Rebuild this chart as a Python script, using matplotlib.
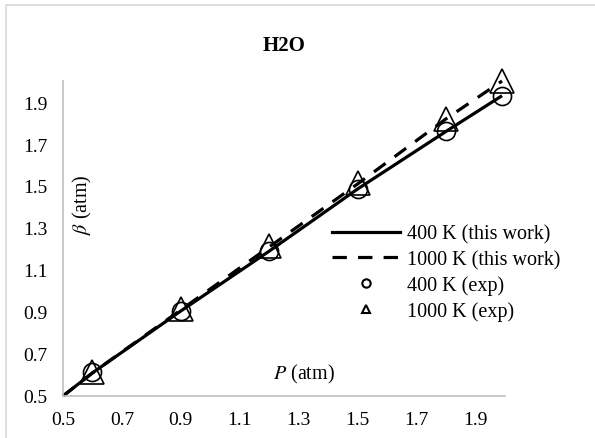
import matplotlib
matplotlib.use("Agg")
import matplotlib.pyplot as plt
from matplotlib.lines import Line2D
from matplotlib.patches import Rectangle

plt.rcParams["font.family"] = "Liberation Serif"
plt.rcParams["mathtext.fontset"] = "stix"

# pressure points and beta values
p = [0.5, 0.6, 0.9, 1.2, 1.5, 1.8, 1.99]
beta_400_model = [0.5, 0.61, 0.905, 1.19, 1.486, 1.76, 1.93]
beta_1000_model = [0.5, 0.61, 0.91, 1.21, 1.51, 1.82, 2.0]

p_exp = [0.6, 0.9, 1.2, 1.5, 1.8, 1.99]
beta_400_exp = [0.614, 0.905, 1.19, 1.486, 1.76, 1.93]
beta_1000_exp = [0.614, 0.914, 1.214, 1.514, 1.82, 2.0]

ticks = [0.5, 0.7, 0.9, 1.1, 1.3, 1.5, 1.7, 1.9]

fig = plt.figure(figsize=(5.95, 4.39), dpi=100)
ax = fig.add_axes([0.1059, 0.0957, 0.7428, 0.7175])

ax.plot(p, beta_400_model, color="black", lw=2.3, solid_capstyle="butt",
        clip_on=False)
ax.plot(p, beta_1000_model, color="black", lw=2.3, dashes=(4.5, 3.5),
        clip_on=False)
ax.plot(p_exp, beta_400_exp, "o", ms=13, mfc="none", mec="black", mew=1.2,
        clip_on=False)
ax.plot(p_exp, beta_1000_exp, "^", ms=17, mfc="none", mec="black", mew=1.2,
        clip_on=False)

ax.set_xlim(0.5, 2.0)
ax.set_ylim(0.5, 2.0)
ax.set_xticks(ticks)
ax.set_yticks(ticks)
ax.tick_params(length=0, labelsize=14, pad=11)
for s in ["top", "right"]:
    ax.spines[s].set_visible(False)
for s in ["left", "bottom"]:
    ax.spines[s].set_color("#bfbfbf")
    ax.spines[s].set_linewidth(1.2)

ax.set_title("H2O", fontsize=15, fontweight="bold", pad=22)
ax.text(0.545, 0.07, "$P$ (atm)", transform=ax.transAxes, fontsize=14.5,
        ha="center", va="center")
ax.text(0.043, 0.61, r"$\beta$ (atm)", transform=ax.transAxes, fontsize=14.5,
        ha="center", va="center", rotation=90)

handles = [
    Line2D([], [], color="black", lw=2.3),
    Line2D([], [], color="black", lw=2.3, dashes=(4.5, 3.5)),
    Line2D([], [], ls="none", marker="o", ms=6, mfc="none", mec="black", mew=1.5),
    Line2D([], [], ls="none", marker="^", ms=6, mfc="none", mec="black", mew=1.5),
]
labels = ["400 K (this work)", "1000 K (this work)", "400 K (exp)", "1000 K (exp)"]
ax.legend(handles, labels, loc="upper left", bbox_to_anchor=(0.59, 0.57),
          frameon=False, fontsize=14.5, handlelength=3.4, handletextpad=0.35,
          labelspacing=0.3, borderaxespad=0)

# chart area outline
fig.add_artist(Rectangle((6 / 595, -0.1), 1.2, 1.1 - 6 / 439,
                         transform=fig.transFigure, fill=False,
                         edgecolor="#d9d9d9", lw=1.2))

fig.savefig("out.png", dpi=100)
